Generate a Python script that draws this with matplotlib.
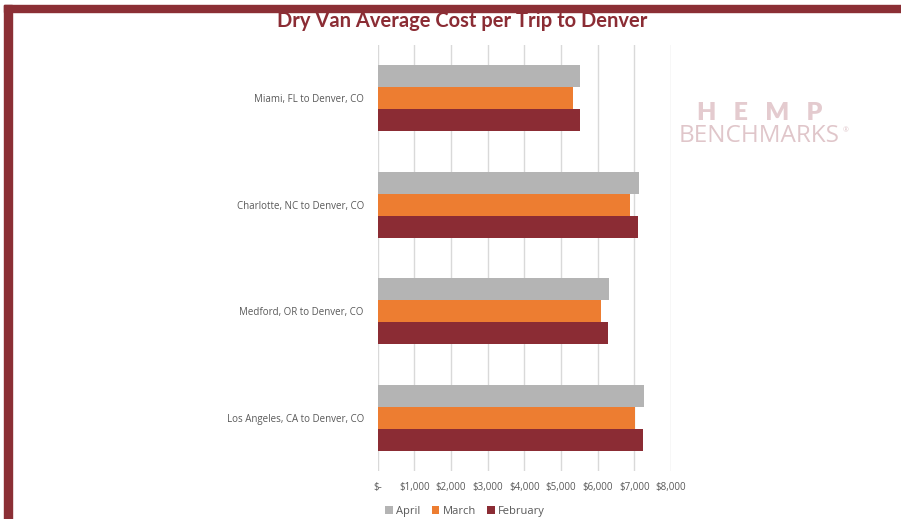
import numpy as np
import matplotlib.pyplot as plt
from matplotlib.patches import Rectangle
from matplotlib.ticker import FuncFormatter

routes = ['Miami, FL to Denver, CO', 'Charlotte, NC to Denver, CO',
          'Medford, OR to Denver, CO', 'Los Angeles, CA to Denver, CO']
april = [5520, 7130, 6300, 7265]
march = [5330, 6895, 6095, 7020]
february = [5505, 7100, 6275, 7240]
months = ['April', 'March', 'February']

dark_red = '#8B2C34'
colors = ['#B4B4B4', '#ED7D31', dark_red]
txt = '#595959'

plt.rcParams['font.family'] = ['Open Sans', 'DejaVu Sans']

fig = plt.figure(figsize=(9.01, 5.19), dpi=100)
ax = fig.add_axes([0.4192, 0.0925, 0.3255, 0.8208])

y = np.arange(len(routes))
h = 0.206
for i, (vals, name) in enumerate(zip([april, march, february], months)):
    ax.barh(y + (i - 1) * h, vals, height=h, color=colors[i], label=name, zorder=3)

ax.set_xlim(0, 8000)
ax.set_ylim(len(routes) - 0.5, -0.5)
ax.set_xticks(np.arange(0, 8001, 1000))
ax.xaxis.set_major_formatter(FuncFormatter(lambda v, p: '$-' if v == 0 else '${:,.0f}'.format(v)))
ax.set_yticks(y)
ax.set_yticklabels(routes)
ax.tick_params(axis='both', length=0, labelsize=7, colors=txt)
ax.tick_params(axis='x', pad=8)
ax.tick_params(axis='y', pad=10)
ax.grid(axis='x', color='#D9D9D9', linewidth=1, zorder=0)
for s in ax.spines.values():
    s.set_visible(False)

fig.text(0.513, 0.96, 'Dry Van Average Cost per Trip to Denver', ha='center', va='center',
         fontsize=14.5, fontweight='bold', color=dark_red, family=['Lato', 'DejaVu Sans'])

leg = ax.legend(loc='center', bbox_to_anchor=(0.298, -0.094), ncol=3, frameon=False,
                fontsize=8, handlelength=0.7, handleheight=0.7, handletextpad=0.3,
                columnspacing=1.0)
for t in leg.get_texts():
    t.set_color(txt)

# watermark
fig.text(0.843, 0.782, 'H   E   M   P', ha='center', va='center', fontsize=18,
         fontweight='heavy', color='#E4CBCF', family=['Lato', 'DejaVu Sans'])
fig.text(0.843, 0.737, 'BENCHMARKS', ha='center', va='center', fontsize=17.5,
         color='#E0C6CA')
fig.text(0.939, 0.748, '®', ha='center', va='center', fontsize=5, color='#E0C6CA')

# frame bars
fig.patches.append(Rectangle((4 / 901, 0), 8 / 901, 1 - 5 / 519, transform=fig.transFigure,
                             color='#8B2F35', zorder=10))
fig.patches.append(Rectangle((4 / 901, 1 - 12 / 519), 1, 7 / 519, transform=fig.transFigure,
                             color='#8B2F35', zorder=10))

fig.savefig('out.png', dpi=100)
